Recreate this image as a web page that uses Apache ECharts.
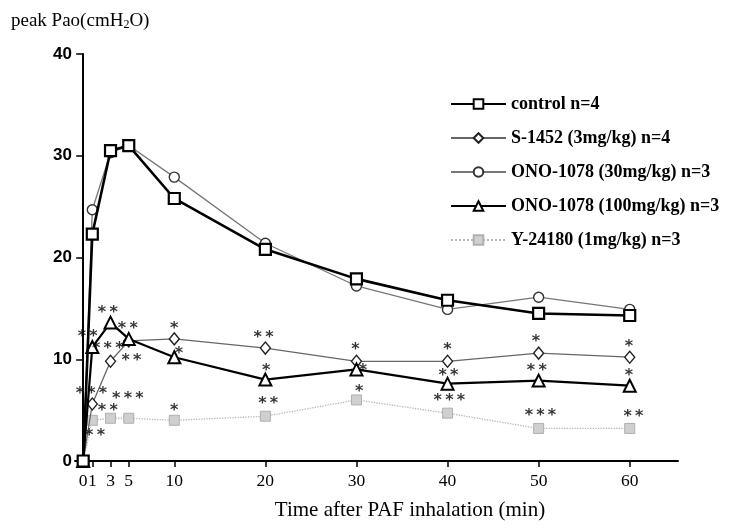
<!DOCTYPE html>
<html><head><meta charset="utf-8">
<script src="https://cdn.jsdelivr.net/npm/echarts@6/dist/echarts.min.js"></script>
<style>html,body{margin:0;padding:0;background:#fff}#c{width:732px;height:530px}</style>
</head><body><div id="c"></div>
<script>
// ---- data ----
const times = [0, 1, 3, 5, 10, 20, 30, 40, 50, 60];
const xTickValues = [0, 1, 3, 5, 10, 20, 30, 40, 50, 60];
const seriesNames = ['control n=4', 'S-1452 (3mg/kg) n=4', 'ONO-1078 (30mg/kg) n=3', 'ONO-1078 (100mg/kg) n=3', 'Y-24180 (1mg/kg) n=3'];
const control = [0, 22.3, 30.5, 31.0, 25.8, 20.8, 17.9, 15.8, 14.5, 14.3];
const s1452   = [0, 5.6, 9.8, 11.8, 12.0, 11.1, 9.8, 9.8, 10.6, 10.2];
const ono30   = [0, 24.7, 30.3, 31.0, 27.9, 21.4, 17.2, 14.9, 16.1, 14.9];
const ono100  = [0, 11.2, 13.6, 12.0, 10.2, 8.0, 9.0, 7.6, 7.9, 7.4];
const y24180  = [0, 4.0, 4.2, 4.2, 4.0, 4.4, 6.0, 4.7, 3.2, 3.2];
// significance marks
const starTimes  = [2.7, 4.9, 0.5, 2.7, 5.3, 0.9, 4.9, 2.7, 1.3, 10, 10.5, 10, 19.8, 20.1, 20.3, 29.9, 30.7, 30.3, 40, 40.1, 40.2, 49.7, 49.8, 50.2, 59.9, 59.9, 60.4];
const starValues = [15.1, 13.5, 12.7, 11.5, 10.3, 7.1, 6.6, 5.4, 3.0, 13.5, 11.0, 5.4, 12.6, 9.4, 6.1, 11.4, 9.4, 7.3, 11.4, 8.9, 6.4, 12.2, 9.4, 4.9, 11.7, 8.9, 4.8];
const starTexts  = ['**', '**', '**', '***', '**', '***', '***', '**', '**', '*', '*', '*', '**', '*', '**', '*', '*', '*', '*', '**', '***', '*', '**', '***', '*', '*', '**'];

const pts = arr => times.map((t, i) => [t, arr[i]]);
const serif = 'Liberation Serif';

const chart = echarts.init(document.getElementById('c'), null, {renderer: 'canvas'});
chart.setOption({
  backgroundColor: '#fff',
  animation: false,
  title: {
    left: 6, top: 7,
    text: '{a|peak Pao(cmH}{s|2}{a|O)}',
    textStyle: {
      fontWeight: 'normal',
      rich: {
        a: {fontFamily: serif, fontSize: 19, fontWeight: 'normal', color: '#000'},
        s: {fontFamily: serif, fontSize: 12, fontWeight: 'normal', color: '#000', verticalAlign: 'bottom', padding: [6, 0, 0, 0]}
      }
    }
  },
  graphic: [{
    type: 'text', x: 410, y: 510,
    style: {text: 'Time after PAF inhalation (min)', font: '21px "Liberation Serif"', fill: '#000', align: 'center', verticalAlign: 'middle'}
  }],
  legend: {
    orient: 'vertical', left: 450, top: 95, itemGap: 16,
    itemWidth: 55, itemHeight: 12, padding: 0,
    textStyle: {fontFamily: serif, fontWeight: 'bold', fontSize: 18, color: '#000'},
    data: seriesNames
  },
  grid: {left: 75, top: 54, width: 603, height: 407},
  xAxis: {
    type: 'value', min: -0.9, max: 65.3,
    axisLine: {lineStyle: {color: '#000', width: 2}},
    axisTick: {customValues: xTickValues, length: 6, lineStyle: {color: '#000', width: 1.5}},
    axisLabel: {customValues: xTickValues, hideOverlap: false,
      fontFamily: serif, fontSize: 17.5, color: '#000', margin: 11},
    splitLine: {show: false}
  },
  yAxis: {
    type: 'value', min: 0, max: 40, interval: 10,
    axisLine: {show: true, lineStyle: {color: '#000', width: 2}},
    axisTick: {show: true, length: 7, lineStyle: {color: '#000', width: 1.5}},
    axisLabel: {fontFamily: 'Liberation Sans', fontWeight: 'bold', fontSize: 17, color: '#000', margin: 3},
    splitLine: {show: false}
  },
  series: [
    {name: seriesNames[4], type: 'line', data: pts(y24180), z: 2,
     symbol: 'rect', symbolSize: 10,
     lineStyle: {color: '#b5b5b5', width: 1.3, type: 'dotted'},
     itemStyle: {color: '#cfcfcf', borderColor: '#b0b0b0', borderWidth: 1}},
    {name: seriesNames[1], type: 'line', data: pts(s1452), z: 3,
     symbol: 'diamond', symbolSize: [10, 12],
     lineStyle: {color: '#666', width: 1.3},
     itemStyle: {color: '#fff', borderColor: '#222', borderWidth: 1.4}},
    {name: seriesNames[2], type: 'line', data: pts(ono30), z: 3,
     symbol: 'circle', symbolSize: 10,
     lineStyle: {color: '#777', width: 1.3},
     itemStyle: {color: '#fff', borderColor: '#333', borderWidth: 1.4}},
    {name: seriesNames[3], type: 'line', data: pts(ono100), z: 4,
     symbol: 'triangle', symbolSize: 12,
     lineStyle: {color: '#000', width: 2.2},
     itemStyle: {color: '#fff', borderColor: '#000', borderWidth: 2}},
    {name: seriesNames[0], type: 'line', data: pts(control), z: 5,
     symbol: 'rect', symbolSize: 11,
     lineStyle: {color: '#000', width: 2.6},
     itemStyle: {color: '#fff', borderColor: '#000', borderWidth: 2.2}},
    {name: 'stars', type: 'scatter', z: 6, silent: true,
     data: starTimes.map((t, i) => [t, starValues[i], starTexts[i]]),
     symbolSize: 1, itemStyle: {color: 'rgba(0,0,0,0)'},
     label: {show: true, position: 'inside', offset: [0, 5],
       formatter: p => p.data[2].split('').join('\u2009'),
       fontFamily: 'DejaVu Sans', fontWeight: 'bold', fontSize: 16, color: '#000'}}
  ]
});
</script></body></html>
